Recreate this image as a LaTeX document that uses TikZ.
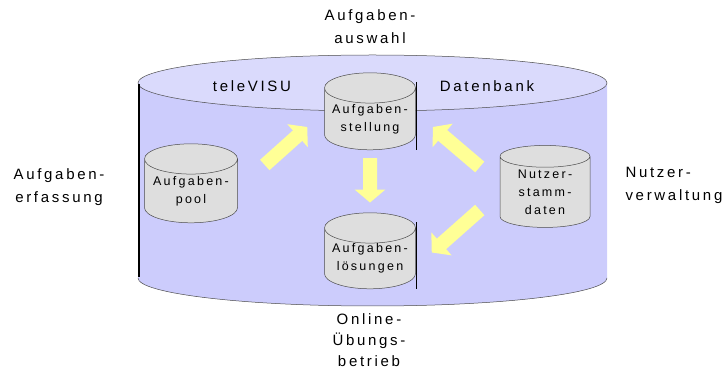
\documentclass[tikz,border=0pt]{standalone}
\usepackage{fontspec}
\setmainfont{Liberation Sans}
\newfontfamily\lblfont[LetterSpace=18]{Liberation Sans}
\usetikzlibrary{shapes.geometric,arrows.meta,calc}
\definecolor{dbtop}{RGB}{218,218,252}
\definecolor{dbbody}{RGB}{204,204,252}
\definecolor{tankgray}{RGB}{222,222,222}
\definecolor{arrowyellow}{RGB}{255,255,150}
\tikzset{
  tank/.style={cylinder,shape border rotate=90,aspect=0.4,draw=black!70,line width=0.5pt,
    fill=tankgray,minimum width=91pt,minimum height=77pt,inner sep=0pt,align=center,
    font=\lblfont\fontsize{12.5}{18}\selectfont},
  outer/.style={align=center,font=\lblfont\fontsize{15}{23}\selectfont},
  tankshade/.style={line width=1.3pt,black},
  blockarrow/.style={line width=14pt,arrowyellow,-{Triangle[width=30pt,length=13pt]}}
}
\begin{document}
\begin{tikzpicture}[x=1pt,y=-1pt]
  \useasboundingbox (0,0) rectangle (723,371);
  % Datenbank
  \fill[dbbody] (138,83) -- (138,278) arc[start angle=180,end angle=360,x radius=234.5pt,y radius=28pt] -- (607,83) -- cycle;
  \draw[black!70,line width=0.5pt] (138,278) arc[start angle=180,end angle=360,x radius=234.5pt,y radius=28pt];
  \filldraw[fill=dbtop,draw=black!70,line width=0.5pt] (372.5,83) ellipse[x radius=234.5pt,y radius=28pt];
  \draw[line width=1.6pt] (139,84) -- (139,277);
  \node[outer] (tele) at (252,86) {teleVISU};
  \node[outer] (dbname) at (487,86) {Datenbank};
  % Tanks
  \node[tank] (stellung) at (370,119) {Aufgaben-\\stellung};
  \node[tank,minimum height=76pt] (loesung) at (370,258.5) {Aufgaben-\\lösungen};
  \node[tank,minimum width=93pt,minimum height=79pt] (pool) at (191,191) {Aufgaben-\\pool};
  \node[tank,minimum width=90pt,minimum height=82pt] (stamm) at (545,192) {Nutzer-\\stamm-\\daten};
  \draw[tankshade] ($(stellung.east)+(1,-37)$) -- ($(stellung.east)+(1,31)$);
  \draw[tankshade] ($(loesung.east)+(1,-36)$) -- ($(loesung.east)+(1,31)$);
  % Pfeile
  \draw[blockarrow] ($(pool.east)+(27,-26)$) -- ($(stellung.west)+(-17,8)$);
  \draw[blockarrow] ($(stamm.west)+(-20,-25)$) -- ($(stellung.east)+(17,8)$);
  \draw[blockarrow] ($(stellung.south)+(0,8)$) -- ($(loesung.north)+(0,-10)$);
  \draw[blockarrow] ($(stamm.west)+(-20,18)$) -- ($(loesung.east)+(16,-6)$);
  % Beschriftung aussen
  \node[outer] (auswahl) at (370,27) {Aufgaben-\\auswahl};
  \node[outer] (erfassung) at (59,187) {Aufgaben-\\erfassung};
  \node[outer,align=left,anchor=west] (verwaltung) at (622,185) {Nutzer-\\verwaltung};
  \node[outer,font=\lblfont\fontsize{15}{21}\selectfont] (betrieb) at (369,340) {Online-\\Übungs-\\betrieb};
\end{tikzpicture}
\end{document}
